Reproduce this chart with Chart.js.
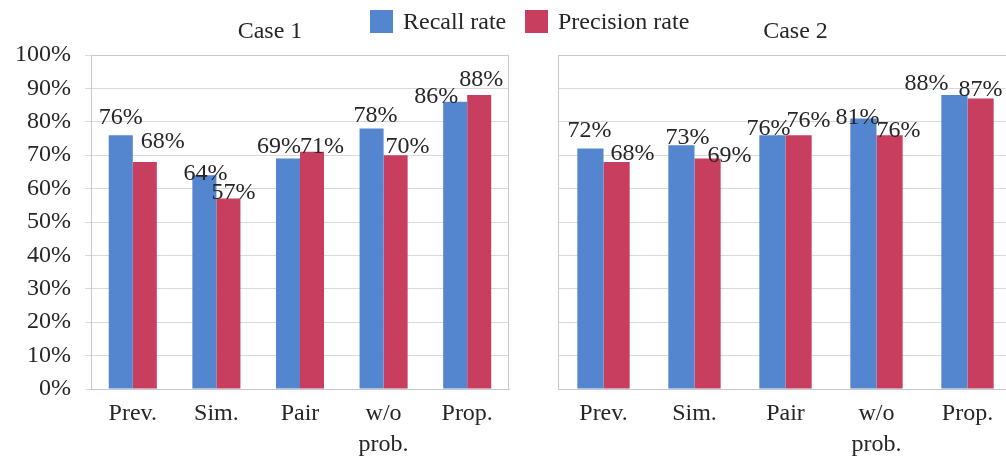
<!DOCTYPE html>
<html>
<head>
<meta charset="utf-8">
<script src="https://cdn.jsdelivr.net/npm/chart.js@4.4.1/dist/chart.umd.min.js"></script>
<style>
  html, body { margin: 0; padding: 0; background: #fff; overflow: hidden; width: 1006px; height: 456px; }
  #leftBox  { position: absolute; left: 0; top: 0; width: 530px; height: 456px; }
  #rightBox { position: absolute; left: 530px; top: 0; width: 483px; height: 456px; }
  .legItem { position: absolute; top: 10px; display: flex; align-items: center; white-space: nowrap;
             font: 24px "Liberation Serif", "Times New Roman", serif; color: #262626; line-height: 23px; }
  .legItem i { display: inline-block; width: 23px; height: 23px; margin-right: 10px; }
</style>
</head>
<body>
<div id="leftBox"><canvas id="case1"></canvas></div>
<div id="rightBox"><canvas id="case2"></canvas></div>
<div id="legend"></div>
<script>
// chart values
var categories = ['Prev.', 'Sim.', 'Pair', ['w/o', 'prob.'], 'Prop.'];
var seriesNames = ['Recall rate', 'Precision rate'];
var case1Recall = [76, 64, 69, 78, 86];
var case1Precision = [68, 57, 71, 70, 88];
var case2Recall = [72, 73, 76, 81, 88];
var case2Precision = [68, 69, 76, 76, 87];
var yMin = 0, yMax = 100, yStep = 10;

var colors = ['#5386cf', '#c83e5e'];
var gridColor = '#d9d9d9';
var frameColor = '#c4c8d0';
var textColor = '#262626';

// how far each value label sits from its bar top [dx, dy up]
var case1Nudge = [
  [[0, 17], [1, 2], [-9, 12], [4, 13], [-19, 5]],
  [[18, 20], [5, 6], [10, 5], [12, 8], [2, 15]]
];
var case2Nudge = [
  [[-1, 18], [6, 7], [-4, 6], [-6, 1], [-28, 11]],
  [[16, 8], [22, 3], [10, 14], [9, 4], [0, 9]]
];

Chart.defaults.font.family = '"Liberation Serif", "Times New Roman", serif';
Chart.defaults.font.size = 24;
Chart.defaults.color = textColor;

// value labels drawn over the bars
var valueLabels = {
  id: 'valueLabels',
  afterDatasetsDraw: function(chart, args, opts) {
    var ctx = chart.ctx;
    ctx.save();
    ctx.font = '24px "Liberation Serif", "Times New Roman", serif';
    ctx.fillStyle = textColor;
    ctx.textAlign = 'center';
    ctx.textBaseline = 'middle';
    chart.data.datasets.forEach(function(ds, i) {
      chart.getDatasetMeta(i).data.forEach(function(bar, j) {
        var n = opts.nudge[i][j];
        ctx.fillText(ds.data[j] + '%', bar.x + n[0], bar.y - n[1]);
      });
    });
    ctx.restore();
  }
};

// box round the plot area and the panel title
var panelFrame = {
  id: 'panelFrame',
  afterDraw: function(chart, args, opts) {
    var a = chart.chartArea, ctx = chart.ctx;
    ctx.save();
    ctx.strokeStyle = frameColor;
    ctx.lineWidth = 1;
    ctx.beginPath();
    ctx.moveTo(a.left, a.top + 0.5);
    ctx.lineTo(a.right - 0.5, a.top + 0.5);
    ctx.lineTo(a.right - 0.5, a.bottom);
    ctx.stroke();
    ctx.font = '24px "Liberation Serif", "Times New Roman", serif';
    ctx.fillStyle = textColor;
    ctx.textAlign = 'center';
    ctx.textBaseline = 'middle';
    ctx.fillText(opts.title, (a.left + a.right) / 2 + opts.dx, 32);
    ctx.restore();
  }
};

function makeCase(id, recall, precision, nudge, title, titleDx, showY, yWidth, padRight) {
  return new Chart(document.getElementById(id), {
    type: 'bar',
    data: {
      labels: categories,
      datasets: [
        { label: seriesNames[0], data: recall, backgroundColor: colors[0] },
        { label: seriesNames[1], data: precision, backgroundColor: colors[1] }
      ]
    },
    options: {
      responsive: true,
      maintainAspectRatio: false,
      animation: false,
      layout: { padding: { top: 55, right: padRight, left: 0, bottom: 0 } },
      datasets: { bar: { categoryPercentage: 0.575, barPercentage: 1 } },
      scales: {
        x: {
          grid: { display: false, drawTicks: false },
          border: { color: frameColor },
          ticks: { padding: 9, font: { size: 24, lineHeight: 1.3 }, maxRotation: 0, autoSkip: false },
          afterFit: function(s) { s.height = 67; }
        },
        y: {
          min: yMin,
          max: yMax,
          grid: { color: gridColor, tickLength: 6, drawTicks: showY },
          border: { color: frameColor },
          ticks: {
            display: showY,
            stepSize: yStep,
            padding: 14,
            callback: function(v) { return v + '%'; }
          },
          afterFit: function(s) { s.width = yWidth; }
        }
      },
      plugins: {
        legend: { display: false },
        tooltip: { enabled: false },
        valueLabels: { nudge: nudge },
        panelFrame: { title: title, dx: titleDx }
      }
    },
    plugins: [valueLabels, panelFrame]
  });
}

makeCase('case1', case1Recall, case1Precision, case1Nudge, 'Case 1', -30, true, 91, 21);
makeCase('case2', case2Recall, case2Precision, case2Nudge, 'Case 2', 10, false, 28, 0);

// shared legend across both panels
var legendLeft = [370, 525];
var legendBox = document.getElementById('legend');
seriesNames.forEach(function(name, i) {
  var item = document.createElement('div');
  item.className = 'legItem';
  item.style.left = legendLeft[i] + 'px';
  item.innerHTML = '<i style="background:' + colors[i] + '"></i>';
  item.appendChild(document.createTextNode(name));
  legendBox.appendChild(item);
});
</script>
</body>
</html>
